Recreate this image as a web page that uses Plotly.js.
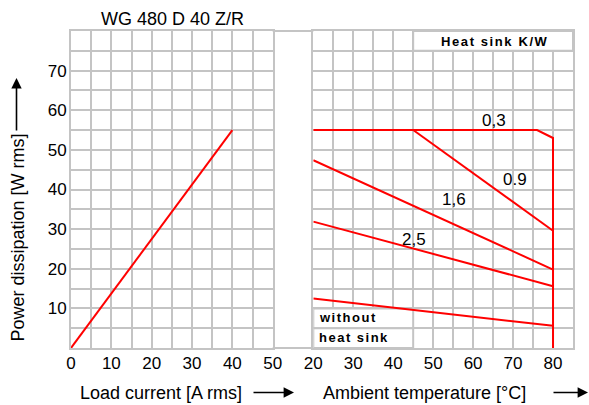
<!DOCTYPE html>
<html>
<head>
<meta charset="utf-8">
<script src="https://cdn.plot.ly/plotly-3.0.1.min.js"></script>
<style>
html,body{margin:0;padding:0;background:#fff;}
#chart{width:589px;height:405px;}
</style>
</head>
<body>
<div id="chart"></div>
<script>
// ---- data ----
const loadCurrent = [0, 40];
const loadPower = [0, 55];

const hs03Temp = [20, 76, 80, 80];
const hs03Power = [55, 55, 53, 0];
const hs09Temp = [45, 80];
const hs09Power = [55, 29.6];
const hs16Temp = [20, 80];
const hs16Power = [47.4, 19.8];
const hs25Temp = [20, 80];
const hs25Power = [31.9, 15.6];
const noSinkTemp = [20, 80];
const noSinkPower = [12.5, 5.6];

const currentTicks = [0, 10, 20, 30, 40, 50];
const tempTicks = [20, 30, 40, 50, 60, 70, 80];
const powerTicks = [10, 20, 30, 40, 50, 60, 70];

const chartTitle = 'WG 480 D 40 Z/R';
const xTitle1 = 'Load current [A rms]';
const xTitle2 = 'Ambient temperature [°C]';
const yTitle = 'Power dissipation [W rms]';
const legendTitle = 'Heat sink K/W';
const curveLabels = ['0,3', '0.9', '1,6', '2,5'];
const noSinkLabel = ['without', 'heat sink'];

// ---- style ----
const FONT = 'Liberation Sans, Arial, Helvetica, sans-serif';
const GRID = '#c4c4c4';
const RED = '#ff0000';
const L = 71, R = 573, T = 31, B = 348;
const W = R - L, H = B - T;
const px = v => (v - L) / W;
const py = v => (B - v) / H;

const lineStyle = {color: RED, width: 2};
const traces = [
  {x: loadCurrent, y: loadPower, xaxis: 'x', yaxis: 'y', mode: 'lines', line: lineStyle},
  {x: hs03Temp, y: hs03Power, xaxis: 'x2', yaxis: 'y', mode: 'lines', line: lineStyle},
  {x: hs09Temp, y: hs09Power, xaxis: 'x2', yaxis: 'y', mode: 'lines', line: lineStyle},
  {x: hs16Temp, y: hs16Power, xaxis: 'x2', yaxis: 'y', mode: 'lines', line: lineStyle},
  {x: hs25Temp, y: hs25Power, xaxis: 'x2', yaxis: 'y', mode: 'lines', line: lineStyle},
  {x: noSinkTemp, y: noSinkPower, xaxis: 'x2', yaxis: 'y', mode: 'lines', line: lineStyle}
];

const axisCommon = {
  showgrid: true, gridcolor: GRID, gridwidth: 2,
  zeroline: false, showline: true, linecolor: GRID, linewidth: 2, mirror: 'all',
  ticks: '', tickfont: {family: FONT, size: 17, color: '#000'},
  fixedrange: true,
  minor: {tickmode: 'linear', tick0: 0, dtick: 5, showgrid: true, gridcolor: GRID, gridwidth: 2, ticks: ''}
};

const d1 = [0, px(272.7)];
const d2 = [px(313.3), 1];

const layout = {
  width: 589, height: 405,
  margin: {l: L, r: 589 - R, t: T, b: 405 - B, pad: 0},
  paper_bgcolor: '#fff', plot_bgcolor: '#fff',
  showlegend: false,
  xaxis: Object.assign({}, axisCommon, {domain: d1, range: [0, 50], tickmode: 'array', tickvals: currentTicks, ticktext: currentTicks.map(String), anchor: 'y', ticklabelstandoff: -1}),
  xaxis2: Object.assign({}, axisCommon, {domain: d2, range: [20, 85], tickmode: 'array', tickvals: tempTicks, ticktext: tempTicks.map(String), anchor: 'y', ticklabelstandoff: -1}),
  yaxis: Object.assign({}, axisCommon, {range: [0, 80], tickmode: 'array', tickvals: powerTicks, ticktext: powerTicks.map(String), anchor: 'x', ticklabelstandoff: -1}),
  shapes: [
    // frame across the gap
    {type: 'line', xref: 'paper', yref: 'paper', x0: d1[1], x1: d2[0], y0: 1, y1: 1, line: {color: GRID, width: 2}},
    {type: 'line', xref: 'paper', yref: 'paper', x0: d1[1], x1: d2[0], y0: 0, y1: 0, line: {color: GRID, width: 2}},
    // header box
    {type: 'rect', xref: 'x2', yref: 'y', x0: 45, x1: 85, y0: 75, y1: 80, fillcolor: '#fff', line: {color: GRID, width: 2}, layer: 'between'},
    // "without heat sink" boxes
    {type: 'rect', xref: 'x2', yref: 'y', x0: 20, x1: 45, y0: 5, y1: 10, fillcolor: '#fff', line: {color: GRID, width: 2}, layer: 'between'},
    {type: 'rect', xref: 'x2', yref: 'y', x0: 20, x1: 45, y0: 0, y1: 5, fillcolor: '#fff', line: {color: GRID, width: 2}, layer: 'between'}
  ],
  annotations: [
    {text: chartTitle, xref: 'paper', yref: 'paper', x: px(172.5), y: py(19), showarrow: false, xanchor: 'center', yanchor: 'middle', font: {family: FONT, size: 18, color: '#000'}},
    {text: yTitle, xref: 'paper', yref: 'paper', x: px(17.5), y: py(238), textangle: -90, showarrow: false, xanchor: 'center', yanchor: 'middle', font: {family: FONT, size: 18, color: '#000'}},
    {text: '', xref: 'paper', yref: 'paper', x: px(16.5), y: py(78), ax: 0, ay: 54, showarrow: true, arrowhead: 2, arrowsize: 1.3, arrowwidth: 1.6, arrowcolor: '#000'},
    {text: xTitle1, xref: 'paper', yref: 'paper', x: px(161), y: py(393), showarrow: false, xanchor: 'center', yanchor: 'middle', font: {family: FONT, size: 18, color: '#000'}},
    {text: '', xref: 'paper', yref: 'paper', x: px(294), y: py(392.5), ax: -42, ay: 0, showarrow: true, arrowhead: 2, arrowsize: 1.3, arrowwidth: 1.6, arrowcolor: '#000'},
    {text: xTitle2, xref: 'paper', yref: 'paper', x: px(424), y: py(393), showarrow: false, xanchor: 'center', yanchor: 'middle', font: {family: FONT, size: 18, color: '#000'}},
    {text: '', xref: 'paper', yref: 'paper', x: px(588), y: py(392.5), ax: -36, ay: 0, showarrow: true, arrowhead: 2, arrowsize: 1.3, arrowwidth: 1.6, arrowcolor: '#000'},
    {text: '<span style="letter-spacing:1.6px"><b>' + legendTitle + '</b></span>', xref: 'x2', yref: 'y', x: 65.3, y: 77.3, showarrow: false, xanchor: 'center', yanchor: 'middle', font: {family: FONT, size: 13, color: '#000'}},
    {text: curveLabels[0], xref: 'x2', yref: 'y', x: 65.25, y: 57.5, showarrow: false, xanchor: 'center', yanchor: 'middle', font: {family: FONT, size: 17, color: '#000'}},
    {text: curveLabels[1], xref: 'x2', yref: 'y', x: 70.4, y: 42.5, showarrow: false, xanchor: 'center', yanchor: 'middle', font: {family: FONT, size: 17, color: '#000'}},
    {text: curveLabels[2], xref: 'x2', yref: 'y', x: 55.2, y: 37.5, showarrow: false, xanchor: 'center', yanchor: 'middle', font: {family: FONT, size: 17, color: '#000'}},
    {text: curveLabels[3], xref: 'x2', yref: 'y', x: 45.2, y: 27.4, showarrow: false, xanchor: 'center', yanchor: 'middle', font: {family: FONT, size: 17, color: '#000'}},
    {text: '<span style="letter-spacing:1.5px"><b>' + noSinkLabel[0] + '</b></span>', xref: 'x2', yref: 'y', x: 20.9, y: 7.6, showarrow: false, xanchor: 'left', yanchor: 'middle', font: {family: FONT, size: 13, color: '#000'}},
    {text: '<span style="letter-spacing:1.5px"><b>' + noSinkLabel[1] + '</b></span>', xref: 'x2', yref: 'y', x: 20.9, y: 2.6, showarrow: false, xanchor: 'left', yanchor: 'middle', font: {family: FONT, size: 13, color: '#000'}}
  ]
};

Plotly.newPlot('chart', traces, layout, {staticPlot: true, displayModeBar: false});
</script>
</body>
</html>
